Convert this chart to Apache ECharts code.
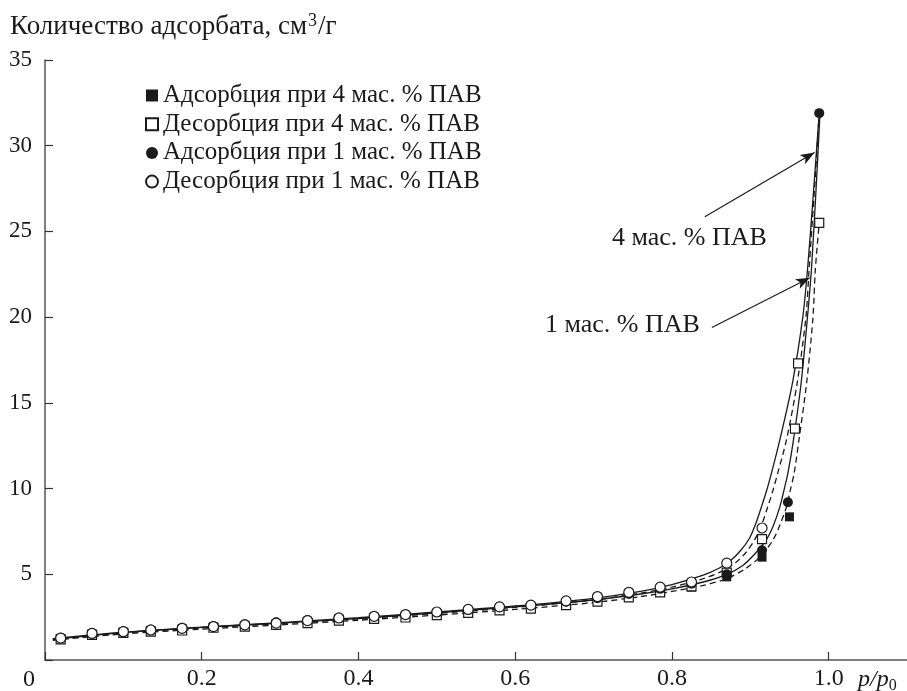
<!DOCTYPE html>
<html>
<head>
<meta charset="utf-8">
<script src="https://cdn.jsdelivr.net/npm/echarts@6/dist/echarts.min.js"></script>
<style>html,body{margin:0;padding:0;background:#fff}#c{width:907px;height:691px}</style>
</head>
<body>
<div id="c"></div>
<script>
// ---- data ----
const seriesNames = ['Адсорбция при 4 мас. % ПАВ','Десорбция при 4 мас. % ПАВ','Адсорбция при 1 мас. % ПАВ','Десорбция при 1 мас. % ПАВ'];
const pLow = [0.02,0.06,0.10,0.135,0.175,0.215,0.255,0.295,0.335,0.375,0.42,0.46,0.50,0.54,0.58,0.62,0.665,0.705,0.745,0.785,0.825,0.87,0.915];
const pAds4 = pLow.concat([0.95]);
const vAds4 = [1.25,1.52,1.62,1.72,1.82,1.92,2.02,2.12,2.25,2.4,2.45,2.55,2.7,2.85,3.0,3.1,3.3,3.5,3.72,4.0,4.25,4.85,6.0,8.35];
const pDes4 = pLow.concat([0.957,0.961,0.988]);
const vDes4 = [1.2,1.47,1.58,1.65,1.72,1.88,1.95,2.05,2.15,2.3,2.4,2.48,2.62,2.75,2.9,3.0,3.2,3.4,3.65,3.95,4.3,5.1,7.05,13.5,17.3,25.5];
const pAds1 = pLow.concat([0.948,0.988]);
const vAds1 = [1.3,1.58,1.68,1.78,1.88,1.98,2.08,2.2,2.33,2.48,2.55,2.65,2.8,2.95,3.1,3.2,3.4,3.6,3.85,4.15,4.45,5.0,6.4,9.2,31.9];
const pDes1 = pLow;
const vDes1 = [1.28,1.55,1.65,1.75,1.85,1.95,2.05,2.15,2.3,2.45,2.55,2.65,2.8,2.95,3.1,3.2,3.45,3.7,3.95,4.25,4.55,5.65,7.7];

// drawn isotherm curves (two solid, two dashed)
const curve1 = [[0.01,1.25],[0.1,1.62],[0.2,1.92],[0.3,2.18],[0.4,2.47],[0.5,2.8],[0.6,3.15],[0.7,3.6],[0.76,4.0],[0.8,4.4],[0.84,4.95],[0.86,5.35],[0.875,5.8],[0.888,6.4],[0.899,7.1],[0.907,7.95],[0.914,8.9],[0.921,9.9],[0.927,10.9],[0.9375,12.8],[0.954,16.2],[0.967,20],[0.973,22.75],[0.981,27.5],[0.988,31.9]];
const curve2 = [[0.01,1.2],[0.1,1.57],[0.2,1.87],[0.3,2.12],[0.4,2.4],[0.5,2.72],[0.6,3.07],[0.7,3.5],[0.76,3.9],[0.8,4.25],[0.84,4.75],[0.865,5.2],[0.882,5.7],[0.895,6.3],[0.906,7.05],[0.915,7.95],[0.922,8.9],[0.929,9.9],[0.935,10.9],[0.946,12.8],[0.960,16.2],[0.971,20],[0.975,22.75],[0.982,27.5],[0.988,31.9]];
const curve3 = [[0.01,1.2],[0.1,1.6],[0.2,1.9],[0.3,2.15],[0.4,2.42],[0.5,2.75],[0.6,3.1],[0.7,3.5],[0.76,3.85],[0.8,4.15],[0.84,4.55],[0.87,5.0],[0.89,5.5],[0.906,6.2],[0.921,7.05],[0.93,7.9],[0.9375,8.9],[0.943,9.9],[0.948,10.9],[0.955,12.8],[0.965,16.2],[0.973,20],[0.978,22.75],[0.984,27.5],[0.989,31.9]];
const curve4 = [[0.01,1.15],[0.1,1.52],[0.2,1.8],[0.3,2.05],[0.4,2.32],[0.5,2.62],[0.6,2.95],[0.7,3.35],[0.76,3.7],[0.8,4.0],[0.84,4.35],[0.87,4.75],[0.893,5.3],[0.912,6.0],[0.929,7.0],[0.938,7.9],[0.946,8.9],[0.951,9.9],[0.956,10.9],[0.962,12.8],[0.972,16.2],[0.980,20],[0.983,22.75],[0.988,25.5]];

const xTicks = [0,0.2,0.4,0.6,0.8,1.0];
const xTickLabels = [0.2,0.4,0.6,0.8,1.0];
const annotations = [
  {text:'4 мас. % ПАВ', from:[0.842,25.85], to:[0.982,29.6]},
  {text:'1 мас. % ПАВ', from:[0.851,19.4], to:[0.976,22.3]}
];

// ---- chart ----
const FONT = '"Liberation Serif","Times New Roman",serif';
const INK = '#1a1a1a';
const zip = (xs, ys) => xs.map((x, i) => [x, ys[i]]);
const chart = echarts.init(document.getElementById('c'), null, {renderer:'canvas'});

function curveSeries(data, dashed) {
  return {type:'line', data:data, showSymbol:false, symbol:'none', smooth:0.3, silent:true,
    lineStyle:{color:INK, width:1.3, type: dashed ? [6,4] : 'solid'}, z:2};
}
function markSeries(name, data, symbol, filled) {
  return {type:'scatter', name:name, data:data, symbol:symbol, symbolSize: symbol==='rect' ? 9 : 10,
    itemStyle:{color: filled ? INK : '#fff', borderColor: INK, borderWidth: filled ? 0 : 1.2, opacity:1}, z:3};
}

const c1 = curveSeries(curve1, false);
c1.markLine = {
  silent:true, symbol:['none','arrow'], symbolSize:[8,14], animation:false,
  label:{show:false}, lineStyle:{color:INK, width:1.2, type:'solid'},
  data: annotations.map(a => [{coord:a.from},{coord:a.to}])
};

chart.setOption({
  animation:false,
  backgroundColor:'#fff',
  grid:{left:45, top:60, right:0, bottom:31, containLabel:false},
  xAxis:{type:'value', min:0, max:1.1,
    axisLine:{show:true, lineStyle:{color:'#555', width:1.5}},
    axisTick:{show:true, inside:true, length:8, customValues:xTicks, lineStyle:{color:'#333', width:1.2}},
    axisLabel:{customValues:xTickLabels, margin:7, fontFamily:FONT, fontSize:24, color:INK,
      formatter:v => v.toFixed(1)},
    splitLine:{show:false}},
  yAxis:{type:'value', min:0, max:35, interval:5,
    axisLine:{show:true, lineStyle:{color:'#555', width:1.5}},
    axisTick:{show:true, inside:true, length:8, lineStyle:{color:'#333', width:1.2}},
    axisLabel:{margin:13, fontFamily:FONT, fontSize:23, color:INK,
      formatter:v => v === 0 ? '' : String(v)},
    splitLine:{show:false}},
  legend:{orient:'vertical', left:140, top:78, itemWidth:12, itemHeight:12, itemGap:3.7, itemTextGap:6, selectedMode:false,
    textStyle:{fontFamily:FONT, fontSize:25, color:INK, lineHeight:25},
    data:seriesNames},
  graphic:[
    {type:'text', left:10, top:12, style:{text:'{a|Количество адсорбата, см}{s|3}{a|/г}', fill:INK,
      rich:{a:{font:'27px '+FONT, fill:INK}, s:{font:'18px '+FONT, fill:INK, padding:[0,1,12,1]}}}},
    {type:'text', x:29, y:680, style:{text:'0', font:'24px '+FONT, fill:INK, align:'center', verticalAlign:'middle'}},
    {type:'text', x:858, y:680, style:{text:'{i|p/p}{s|0}', fill:INK, verticalAlign:'middle',
      rich:{i:{font:'italic 24px '+FONT, fill:INK}, s:{font:'16px '+FONT, fill:INK, padding:[12,0,0,0]}}}},
    {type:'text', x:612, y:238, style:{text:annotations[0].text, font:'26px '+FONT, fill:INK, verticalAlign:'middle'}},
    {type:'text', x:545, y:325, style:{text:annotations[1].text, font:'26px '+FONT, fill:INK, verticalAlign:'middle'}}
  ],
  series:[
    c1,
    curveSeries(curve2, true),
    curveSeries(curve3, false),
    curveSeries(curve4, true),
    markSeries(seriesNames[0], zip(pAds4, vAds4), 'rect', true),
    markSeries(seriesNames[1], zip(pDes4, vDes4), 'rect', false),
    markSeries(seriesNames[2], zip(pAds1, vAds1), 'circle', true),
    markSeries(seriesNames[3], zip(pDes1, vDes1), 'circle', false)
  ]
});
</script>
</body>
</html>
